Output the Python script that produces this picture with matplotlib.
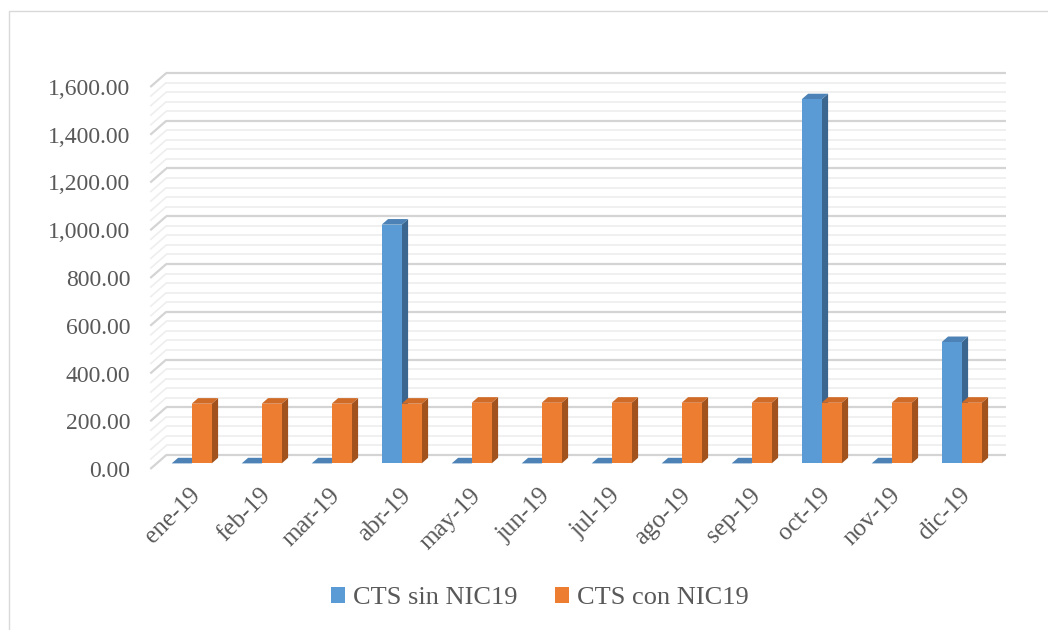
import matplotlib
matplotlib.use("Agg")
import matplotlib.pyplot as plt
import matplotlib.transforms as mtransforms
from matplotlib.patches import Polygon, Rectangle, Patch

months = ["ene-19", "feb-19", "mar-19", "abr-19", "may-19", "jun-19",
          "jul-19", "ago-19", "sep-19", "oct-19", "nov-19", "dic-19"]
sin_nic19 = [0, 0, 0, 1000, 0, 0, 0, 0, 0, 1525, 0, 508]
con_nic19 = [250, 250, 250, 250, 254, 254, 254, 254, 254, 254, 254, 254]
series_names = ["CTS sin NIC19", "CTS con NIC19"]

# colours: front, top, side
blue = ("#5B9BD5", "#4C82B5", "#3B6690")
orange = ("#ED7D31", "#CF6A27", "#A2531D")
text_col = "#595959"

plt.rcParams['font.family'] = ['Liberation Serif', 'DejaVu Serif']

W, H, DPI = 1048, 630, 100
fig = plt.figure(figsize=(W / DPI, H / DPI), dpi=DPI)

# axes area = front plane of the 3d box (pixels)
x0, x1 = 150.3, 990.3
y0, y1 = 469.0, 87.0
ax = fig.add_axes([x0 / W, (H - y0) / H, (x1 - x0) / W, (y0 - y1) / H])
ax.set_xlim(-0.5, 11.5)
ax.set_ylim(0, 1600)
ax.axis("on")
for s in ax.spines.values():
    s.set_visible(False)
ax.patch.set_visible(False)

# depth vector front -> back wall, converted from pixels to data units
px_x = (x1 - x0) / 12.0
px_y = (y0 - y1) / 1600.0
ddx = 16 / px_x
ddy = 14 / px_y

# back wall + side wall grid
for v in range(0, 1601, 40):
    major = v % 200 == 0
    col = "#D4D4D4" if major else "#EEEEEE"
    lw = 1.6 if major else 1.2
    z = 2 if major else 1
    ax.plot([-0.5 + ddx, 11.5 + ddx], [v + ddy, v + ddy], color=col, lw=lw,
            zorder=z, clip_on=False, solid_capstyle="butt")
    ax.plot([-0.5, -0.5 + ddx], [v, v + ddy], color=col, lw=lw,
            zorder=z, clip_on=False, solid_capstyle="butt")

# 3d bars
bw = 20 / px_x
d0, d1 = 0.4, 0.8


def bar3d(xl, h, cols):
    fx, fy = d0 * ddx, d0 * ddy
    bx, by = d1 * ddx, d1 * ddy
    xr = xl + bw
    front = Polygon([(xl + fx, fy), (xr + fx, fy), (xr + fx, h + fy), (xl + fx, h + fy)],
                    closed=True, fc=cols[0], ec="none", zorder=5, clip_on=False)
    top = Polygon([(xl + fx, h + fy), (xr + fx, h + fy), (xr + bx, h + by), (xl + bx, h + by)],
                  closed=True, fc=cols[1], ec="none", zorder=5, clip_on=False)
    side = Polygon([(xr + fx, fy), (xr + bx, by), (xr + bx, h + by), (xr + fx, h + fy)],
                   closed=True, fc=cols[2], ec="none", zorder=5, clip_on=False)
    for p in (side, top, front):
        ax.add_patch(p)


for i in range(len(months)):
    bar3d(i - bw, sin_nic19[i], blue)
    bar3d(i, con_nic19[i], orange)

# ticks
ax.set_yticks(range(0, 1601, 200))
ax.set_yticklabels([f"{v:,.2f}" for v in range(0, 1601, 200)])
ax.tick_params(axis="y", length=0, pad=14.5, labelsize=17, labelcolor=text_col)
ax.set_xticks(range(len(months)))
ax.set_xticklabels(months, rotation=45, ha="right", rotation_mode="anchor")
ax.tick_params(axis="x", length=0, pad=11, labelsize=18, labelcolor=text_col)
shift = mtransforms.ScaledTranslation(4 / DPI, 0, fig.dpi_scale_trans)
for lab in ax.get_xticklabels():
    lab.set_transform(lab.get_transform() + shift)

# legend
handles = [Patch(fc=blue[0], ec="none"), Patch(fc=orange[0], ec="none")]
fig.legend(handles, series_names, loc="center", bbox_to_anchor=(540 / W, 1 - 598 / H),
           ncol=2, frameon=False, fontsize=19, labelcolor=text_col,
           handlelength=0.55, handleheight=0.55, handletextpad=0.3, columnspacing=1.4)

# chart border
fig.patches.append(Rectangle((9 / W, -0.1), 1.2, (H - 11) / H + 0.1, transform=fig.transFigure,
                             fill=False, ec="#D9D9D9", lw=1.0))

fig.savefig("out.png", dpi=DPI)
